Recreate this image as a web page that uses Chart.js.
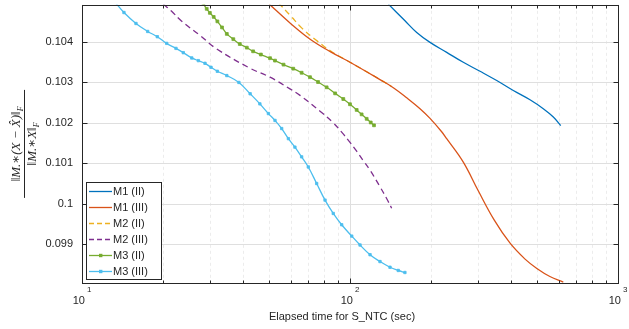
<!DOCTYPE html>
<html>
<head>
<meta charset="utf-8">
<script src="https://cdn.jsdelivr.net/npm/chart.js@4"></script>
<style>
    html, body { margin: 0; padding: 0; background: #fff; }
</style>
</head>
<body>
<canvas id="chart" width="629" height="329"></canvas>
<script>
// Data (x = elapsed seconds, y = relative error)
const seriesNames = ['M1 (II)', 'M1 (III)', 'M2 (II)', 'M2 (III)', 'M3 (II)', 'M3 (III)'];

const m1IIx = [139, 160.4, 177.4, 198.9, 229.5, 264.7, 305.6, 352.7, 406.8, 469.5, 526.3, 573.7, 611.3];
const m1IIy = [0.104936, 0.104524, 0.104236, 0.103990, 0.103744, 0.103498, 0.103276, 0.103047, 0.102800, 0.102571, 0.102350, 0.102144, 0.101931];

const m1IIIx = [50, 60, 71, 85, 100, 129.4, 145.1, 162.8, 182.5, 198.9, 219.8, 229.5, 264.7, 301, 345, 395, 450, 498, 557, 625];
const m1IIIy = [0.104936, 0.10446, 0.10407, 0.10375, 0.10350, 0.10307, 0.10287, 0.10262, 0.10235, 0.10211, 0.10178, 0.10161, 0.10103, 0.10032, 0.09960, 0.09903, 0.09863, 0.09840, 0.09820, 0.09806];

const m2IIx = [54, 60, 66, 74, 85, 100, 120, 143];
const m2IIy = [0.10497, 0.10465, 0.10435, 0.10407, 0.10377, 0.10350, 0.10320, 0.10290];

const m2IIIx = [20.1, 21.6, 23.5, 27.6, 31.8, 42.4, 50.3, 59.7, 65.1, 77.3, 86.6, 93.1, 100, 105.9, 112, 118.8, 129.4, 137, 143];
const m2IIIy = [0.10494, 0.10476, 0.10452, 0.10416, 0.10383, 0.10335, 0.10313, 0.10284, 0.10268, 0.10229, 0.10200, 0.10177, 0.10152, 0.10130, 0.10107, 0.10083, 0.10042, 0.10013, 0.09989];

const m3IIx = [28.4, 29.2, 30.0, 31.0, 32.0, 33.3, 34.7, 36.7, 38.8, 41.2, 43.5, 46.5, 50.3, 52.5, 56.5, 61.4, 66.0, 70.9, 76.0, 81.8, 88.0, 94.4, 100, 105.9, 110.5, 115.4, 119.5, 122.9];
const m3IIy = [0.10494, 0.10482, 0.10472, 0.10462, 0.10451, 0.10436, 0.10420, 0.10407, 0.10395, 0.10386, 0.10377, 0.10369, 0.10360, 0.10354, 0.10344, 0.10334, 0.10324, 0.10313, 0.10301, 0.10288, 0.10273, 0.10259, 0.10246, 0.10232, 0.10221, 0.10210, 0.10201, 0.10194];

const m3IIIx = [13.3, 14.34, 15.9, 17.58, 19.1, 20.7, 22.42, 23.88, 25.67, 27.17, 28.77, 30.29, 31.99, 34.7, 38.5, 42.4, 46.1, 49.6, 52.5, 55.6, 58.9, 62.3, 66.0, 69.9, 75.1, 80.7, 86.6, 93.1, 101.5, 109, 118.8, 129.4, 141, 151.4, 160.3];
const m3IIIy = [0.10498, 0.104729, 0.104458, 0.104261, 0.104131, 0.103966, 0.103842, 0.103736, 0.103606, 0.103539, 0.103473, 0.103374, 0.103276, 0.10317, 0.10300, 0.10272, 0.10247, 0.10223, 0.10206, 0.10186, 0.10161, 0.10140, 0.10116, 0.10091, 0.10050, 0.10009, 0.09976, 0.09948, 0.09920, 0.09898, 0.09874, 0.09857, 0.09843, 0.09835, 0.09830];

const xMajorTicks = [10, 100, 1000];
const xMinorTicks = [20, 30, 40, 50, 60, 70, 80, 90, 200, 300, 400, 500, 600, 700, 800, 900];
const xTickExp = ['1', '2', '3'];
const yTicks = [0.099, 0.100, 0.101, 0.102, 0.103, 0.104];

const colors = ['#0072BD', '#D95319', '#EDB120', '#7E2F8E', '#77AC30', '#4DBEEE'];
const axisColor = '#262626';
const font = "'Liberation Sans', Arial, sans-serif";

function toPoints(xs, ys) {
    return xs.map((x, i) => ({ x: x, y: ys[i] }));
}

function makeDataset(i, xs, ys, dashed, markerSize) {
    return {
        label: seriesNames[i],
        data: toPoints(xs, ys),
        borderColor: colors[i],
        backgroundColor: colors[i],
        borderWidth: 1.3,
        borderDash: dashed ? [6, 4] : [],
        pointRadius: markerSize,
        pointStyle: 'rect',
        pointBorderWidth: 0.8,
        tension: 0.4,
        fill: false
    };
}

// grid lines under the data
const gridPlugin = {
    id: 'grid',
    beforeDatasetsDraw(chart) {
        const { ctx, chartArea: a, scales } = chart;
        const sx = scales.x, sy = scales.y;
        ctx.save();
        ctx.lineWidth = 1;
        ctx.strokeStyle = '#ececec';
        ctx.setLineDash([3, 3]);
        xMinorTicks.forEach(v => {
            const px = Math.round(sx.getPixelForValue(v)) + 0.5;
            ctx.beginPath(); ctx.moveTo(px, a.top); ctx.lineTo(px, a.bottom); ctx.stroke();
        });
        ctx.setLineDash([]);
        ctx.strokeStyle = '#dfdfdf';
        xMajorTicks.forEach(v => {
            const px = Math.round(sx.getPixelForValue(v)) + 0.5;
            ctx.beginPath(); ctx.moveTo(px, a.top); ctx.lineTo(px, a.bottom); ctx.stroke();
        });
        yTicks.forEach(v => {
            const py = Math.round(sy.getPixelForValue(v)) + 0.5;
            ctx.beginPath(); ctx.moveTo(a.left, py); ctx.lineTo(a.right, py); ctx.stroke();
        });
        ctx.restore();
    }
};

// axes box, inward ticks, tick labels, titles, legend
const axesPlugin = {
    id: 'axes',
    afterDraw(chart) {
        const { ctx, chartArea: a, scales } = chart;
        const sx = scales.x, sy = scales.y;
        const L = Math.round(a.left) + 0.5, R = Math.round(a.right) + 0.5;
        const T = Math.round(a.top) + 0.5, B = Math.round(a.bottom) + 0.5;
        ctx.save();
        ctx.strokeStyle = axisColor;
        ctx.lineWidth = 1;
        ctx.strokeRect(L, T, R - L, B - T);

        ctx.beginPath();
        xMajorTicks.forEach(v => {
            const px = Math.round(sx.getPixelForValue(v)) + 0.5;
            ctx.moveTo(px, B); ctx.lineTo(px, B - 5);
            ctx.moveTo(px, T); ctx.lineTo(px, T + 5);
        });
        xMinorTicks.forEach(v => {
            const px = Math.round(sx.getPixelForValue(v)) + 0.5;
            ctx.moveTo(px, B); ctx.lineTo(px, B - 3);
            ctx.moveTo(px, T); ctx.lineTo(px, T + 3);
        });
        yTicks.forEach(v => {
            const py = Math.round(sy.getPixelForValue(v)) + 0.5;
            ctx.moveTo(L, py); ctx.lineTo(L + 5, py);
            ctx.moveTo(R, py); ctx.lineTo(R - 5, py);
        });
        ctx.stroke();

        // y tick labels
        ctx.fillStyle = axisColor;
        ctx.font = '11px ' + font;
        ctx.textAlign = 'right';
        ctx.textBaseline = 'middle';
        yTicks.forEach(v => {
            ctx.fillText(String(Number(v.toFixed(3))), a.left - 9, sy.getPixelForValue(v));
        });

        // x tick labels with superscript exponent
        ctx.textBaseline = 'alphabetic';
        ctx.textAlign = 'left';
        xMajorTicks.forEach((v, i) => {
            const px = sx.getPixelForValue(v);
            ctx.font = '11px ' + font;
            const wb = ctx.measureText('10').width;
            ctx.font = '8px ' + font;
            const we = ctx.measureText(xTickExp[i]).width;
            const x0 = px - (wb + 2 + we) / 2;
            ctx.font = '11px ' + font;
            ctx.fillText('10', x0, 304);
            ctx.font = '8px ' + font;
            ctx.fillText(xTickExp[i], x0 + wb + 2, 292);
        });

        // x title
        ctx.font = '11px ' + font;
        ctx.textAlign = 'center';
        ctx.fillText('Elapsed time for S_NTC (sec)', 342, 320);

        // y title: fraction, rotated
        ctx.translate(24, (a.top + a.bottom) / 2);
        ctx.rotate(-Math.PI / 2);
        drawNorm(ctx, '\u2016M.\u2217(X \u2212 X\u0302)\u2016', 0, -4);
        drawNorm(ctx, '\u2016M.\u2217X\u2016', 0, 12);
        ctx.beginPath();
        ctx.lineWidth = 1;
        ctx.moveTo(-54, 0.5); ctx.lineTo(54, 0.5);
        ctx.stroke();
        ctx.restore();

        drawLegend(chart);
    }
};

function drawNorm(ctx, body, cx, baseline) {
    ctx.font = "italic 13px 'Liberation Serif', 'DejaVu Serif', serif";
    const wb = ctx.measureText(body).width;
    ctx.font = "italic 8px 'Liberation Serif', 'DejaVu Serif', serif";
    const wf = ctx.measureText('F').width;
    const x0 = cx - (wb + wf) / 2;
    ctx.textAlign = 'left';
    ctx.font = "italic 13px 'Liberation Serif', 'DejaVu Serif', serif";
    ctx.fillText(body, x0, baseline);
    ctx.font = "italic 8px 'Liberation Serif', 'DejaVu Serif', serif";
    ctx.fillText('F', x0 + wb, baseline + 3);
}

function drawLegend(chart) {
    const ctx = chart.ctx;
    const box = { x: 86.5, y: 182.5, w: 75, h: 97 };
    ctx.save();
    ctx.fillStyle = '#fff';
    ctx.fillRect(box.x, box.y, box.w, box.h);
    ctx.strokeStyle = axisColor;
    ctx.lineWidth = 1;
    ctx.strokeRect(box.x, box.y, box.w, box.h);
    ctx.font = '11px ' + font;
    ctx.textBaseline = 'middle';
    ctx.textAlign = 'left';
    chart.data.datasets.forEach((ds, i) => {
        const y = 191.5 + i * 16;
        ctx.strokeStyle = ds.borderColor;
        ctx.lineWidth = 1.3;
        ctx.setLineDash(ds.borderDash.length ? [5, 3] : []);
        ctx.beginPath(); ctx.moveTo(89, y); ctx.lineTo(112, y); ctx.stroke();
        ctx.setLineDash([]);
        if (ds.pointRadius > 0) {
            ctx.fillStyle = ds.borderColor;
            ctx.fillRect(99, y - 1.7, 3.4, 3.4);
        }
        ctx.fillStyle = axisColor;
        ctx.fillText(ds.label, 113, y + 0.5);
    });
    ctx.restore();
}

const ctx = document.getElementById('chart').getContext('2d');
new Chart(ctx, {
    type: 'line',
    data: {
        datasets: [
            makeDataset(0, m1IIx, m1IIy, false, 0),
            makeDataset(1, m1IIIx, m1IIIy, false, 0),
            makeDataset(2, m2IIx, m2IIy, true, 0),
            makeDataset(3, m2IIIx, m2IIIy, true, 0),
            makeDataset(4, m3IIx, m3IIy, false, 2),
            makeDataset(5, m3IIIx, m3IIIy, false, 1.7)
        ]
    },
    options: {
        responsive: false,
        animation: false,
        layout: { padding: { left: 82, right: 11, top: 4, bottom: 46 } },
        scales: {
            x: { type: 'logarithmic', min: 10, max: 1000, display: false },
            y: { type: 'linear', min: 0.09804, max: 0.10492, display: false }
        },
        plugins: {
            legend: { display: false },
            tooltip: { enabled: false }
        }
    },
    plugins: [gridPlugin, axesPlugin]
});
</script>
</body>
</html>
